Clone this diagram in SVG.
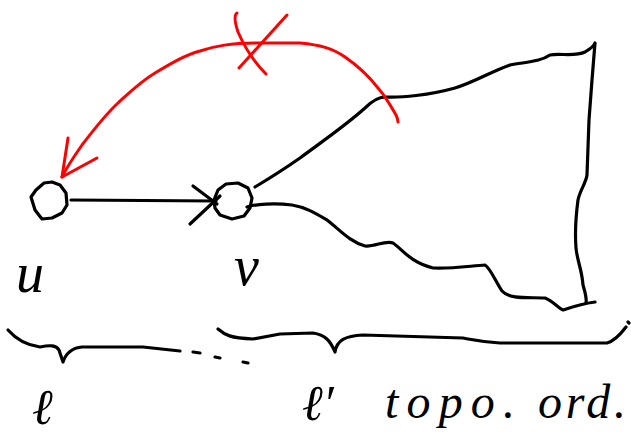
<svg xmlns="http://www.w3.org/2000/svg" width="631" height="435" viewBox="0 0 631 435">
<style>
.ink{fill:none;stroke:#000;stroke-width:3.2;stroke-linecap:round;stroke-linejoin:round}
.red{fill:none;stroke:#ff0000;stroke-width:3;stroke-linecap:round;stroke-linejoin:round}
.hw{font-family:"Liberation Serif","DejaVu Serif",serif;font-style:italic;fill:#000}
</style>
<rect width="631" height="435" fill="#fff"/>
<g id="u">
<path class="ink" d="M31,197 L36,190 L44,183 L52,182 L60,185 L66,193 L67,205 L62,213 L52,218 L42,219 L35,210 Z"/>
</g>
<g id="v">
<path class="ink" d="M214,200 L218,190 L226,184 L238,183 L248,188 L252,198 L250,208 L244,216 L232,219 L220,215 L215,208 Z"/>
</g>
<g id="region">
<path class="ink" d="M255,187 C275,175 290,165 300,158 C320,143 345,126 365,108 C372,101 378,97 385,97 C400,98 430,95 455,88 C475,82 490,72 510,65 C525,62 540,62 550,55 C560,53 575,57 585,52 C590,49 594,46 595,43 L592,80 L589,120 L587,175 C586,183 580,190 578,200 C576,215 575,235 576,248 C577,260 582,270 583,285 C585,292 587,298 586,303"/>
<path class="ink" d="M247,207 C255,204 275,203 292,205 C305,207 315,213 327,220 C340,230 350,242 365,246 C375,247 385,240 393,243 C403,250 410,262 433,268 C450,269 470,266 485,265 C490,268 495,280 502,291 C510,300 530,297 545,298 C553,301 558,308 563,310 C572,307 580,304 595,302"/>
</g>
<g id="connectors">
<path class="ink" d="M71,200 L216,201"/>
<path class="ink" d="M193,186 L217,204"/>
<path class="ink" d="M190,224 L220,196"/>
<path class="red" d="M62,177 C68,165 75,155 82,145 C95,128 105,115 118,103 C130,92 140,82 155,73 C170,64 185,55 200,51 C215,46 230,43 260,43 L300,43 C320,45 332,48 345,57 C358,66 368,75 378,88 C386,97 392,108 396,115 C398,119 398,121 398,122"/>
<path class="red" d="M68,138 L62,177 L97,158"/>
<path class="red" d="M237,13 C234,15 234,20 238,32 C245,48 255,63 266,74"/>
<path class="red" d="M287,15 L239,68"/>
</g>
<g id="braces">
<path class="ink" d="M8,330 C15,338 25,345 40,347 C50,345 56,345 59,350 L63,362 C66,353 72,348 82,347 L143,347 L180,351"/>
<path class="ink" d="M193,352 L200,353 M215,357 L220,358 M243,362 L248,363"/>
<path class="ink" d="M218,329 C225,335 230,338 253,339 L280,334 L313,333 C325,335 330,340 335,352 C337,340 345,336 363,335 L463,338 C475,340 480,342 500,343 L607,343 C614,341 620,335 626,327"/>
<path class="ink" d="M628,322 L629,323"/>
</g>
<g id="labels">
<text class="hw" x="16" y="292" font-size="56">u</text>
<text class="hw" x="234" y="285" font-size="56">v</text>
<text class="hw" x="32" y="424" font-size="50">ℓ</text>
<text class="hw" x="302" y="420" font-size="50">ℓ′</text>
<text class="hw" x="385" y="418" font-size="48" textLength="130" lengthAdjust="spacing">topo.</text>
<text class="hw" x="538" y="418" font-size="48" textLength="88" lengthAdjust="spacing">ord.</text>
</g>
</svg>
